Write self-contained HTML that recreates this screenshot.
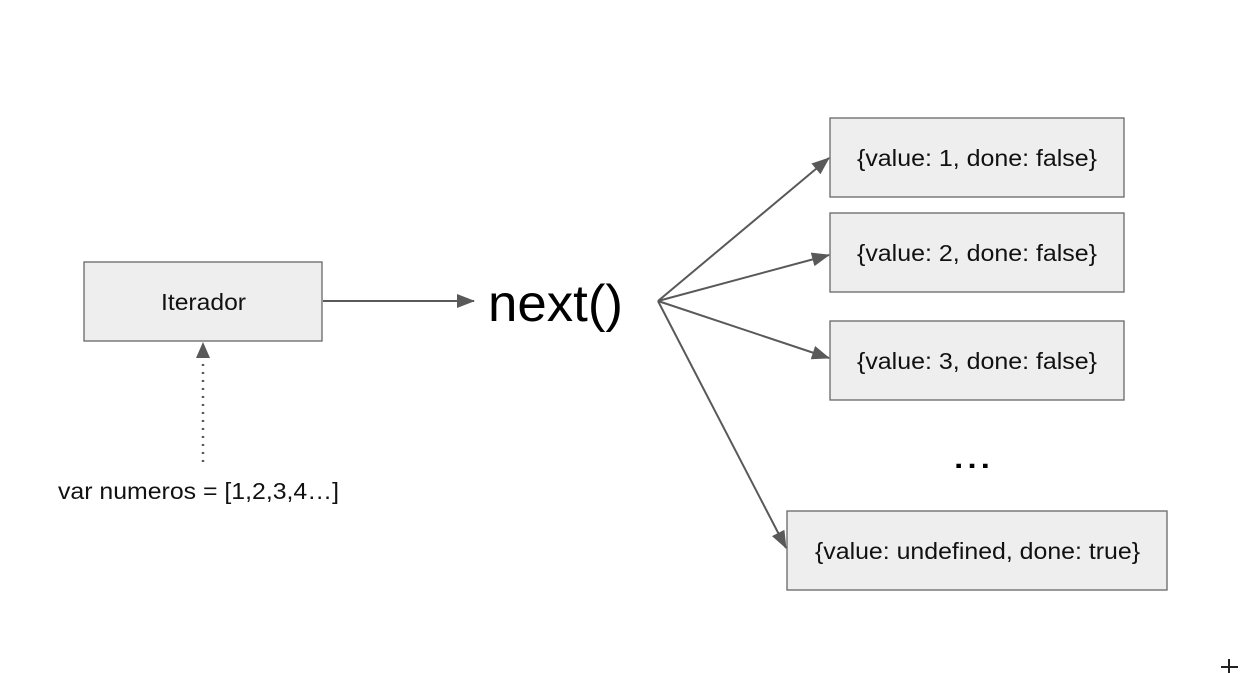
<!DOCTYPE html>
<html><head><style>body{margin:0;background:#fff}svg{display:block}</style></head><body>
<svg width="1243" height="673" viewBox="0 0 1243 673" xmlns="http://www.w3.org/2000/svg" font-family="Liberation Sans, sans-serif">
<defs>
<marker id="b" markerWidth="18" markerHeight="14" refX="17" refY="7" orient="auto" markerUnits="userSpaceOnUse"><path d="M0,0 L18,7 L0,14 z" fill="#595959"/></marker></defs>
<g fill="#eeeeee" stroke="#666" stroke-width="1.3">
<rect x="84" y="262" width="238" height="79"/>
<rect x="830" y="118" width="294" height="79"/>
<rect x="830" y="213" width="294" height="79"/>
<rect x="830" y="321" width="294" height="79"/>
<rect x="787" y="511" width="380" height="79"/>
</g>
<g stroke="#595959" stroke-width="2" fill="none">
<line x1="323" y1="301" x2="474" y2="301" marker-end="url(#b)"/>
<line x1="658" y1="301" x2="829" y2="158" marker-end="url(#b)"/>
<line x1="658" y1="301" x2="829" y2="255" marker-end="url(#b)"/>
<line x1="658" y1="301" x2="829" y2="358" marker-end="url(#b)"/>
<line x1="658" y1="301" x2="786" y2="548" marker-end="url(#b)"/>
<line x1="203" y1="462" x2="203" y2="358" stroke-dasharray="2,6" stroke-width="2.5"/>
</g>
<path d="M196,358 L203,342 L210,358 z" fill="#595959"/>
<g fill="#111" font-size="23" lengthAdjust="spacingAndGlyphs">
<text x="161" y="310" textLength="85" lengthAdjust="spacingAndGlyphs">Iterador</text>
<text x="857" y="166" textLength="240" lengthAdjust="spacingAndGlyphs">{value: 1, done: false}</text>
<text x="857" y="261" textLength="240" lengthAdjust="spacingAndGlyphs">{value: 2, done: false}</text>
<text x="857" y="369" textLength="240" lengthAdjust="spacingAndGlyphs">{value: 3, done: false}</text>
<text x="815" y="559" textLength="325" lengthAdjust="spacingAndGlyphs">{value: undefined, done: true}</text>
<text x="58" y="499" textLength="281" lengthAdjust="spacingAndGlyphs">var numeros = [1,2,3,4…]</text>
</g>
<text x="488" y="321" font-size="52" fill="#000" textLength="135" lengthAdjust="spacingAndGlyphs">next()</text>
<text x="952" y="468" font-size="40" fill="#000" textLength="40" lengthAdjust="spacingAndGlyphs">...</text>
<g stroke="#222" stroke-width="2"><line x1="1221" y1="667" x2="1238" y2="667"/><line x1="1229" y1="659" x2="1229" y2="673"/></g>
</svg>
</body></html>
